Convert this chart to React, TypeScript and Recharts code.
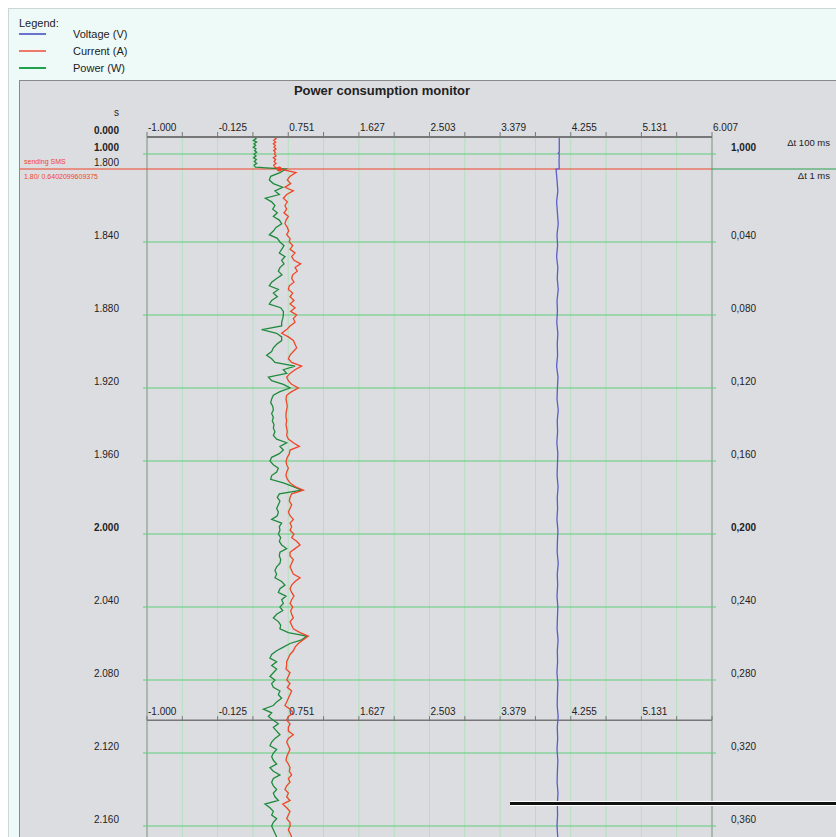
import React from 'react';
import {
  LineChart,
  Line,
  XAxis,
  YAxis,
  CartesianGrid,
  ReferenceLine,
  ReferenceDot,
} from 'recharts';

// value axis
const X_MIN = -1.0;
const X_MAX = 6.007;
const X_LABELS = ['-1.000', '-0.125', '0.751', '1.627', '2.503', '3.379', '4.255', '5.131', '6.007'];

// time axis (s)
const TIME_TICKS = [0, 1.0, 1.8, 1.84, 1.88, 1.92, 1.96, 2.0, 2.04, 2.08, 2.12, 2.16];
const LEFT_LABELS = ['0.000', '1.000', '1.800', '1.840', '1.880', '1.920', '1.960', '2.000', '2.040', '2.080', '2.120', '2.160'];
const RIGHT_LABELS = ['', '1,000', '', '0,040', '0,080', '0,120', '0,160', '0,200', '0,240', '0,280', '0,320', '0,360'];
const LEFT_BOLD = ['0.000', '1.000', '2.000'];
const RIGHT_BOLD = ['1,000', '0,200'];

const SMS_T = 1.8;
const SMS_VALUE = 0.6402099609375;
const SECOND_AXIS_T = 2.102;

// overview before the event (Δt 100 ms)
const PRE_TIMES = [0, 0.1, 0.2, 0.3, 0.4, 0.5, 0.6, 0.7, 0.8, 0.9, 1.0, 1.1, 1.2, 1.3, 1.4, 1.5, 1.6, 1.7];
const PRE_CURRENT = [0.579, 0.6, 0.571, 0.596, 0.567, 0.592, 0.575, 0.6, 0.571, 0.592, 0.579, 0.6, 0.567, 0.596, 0.575, 0.6, 0.571, 0.587];
const PRE_POWER = [0.327, 0.352, 0.319, 0.36, 0.327, 0.348, 0.319, 0.352, 0.335, 0.36, 0.327, 0.352, 0.323, 0.356, 0.331, 0.36, 0.327, 0.344];

// detail from 1.800 s on, every 2 ms
const SAMPLE_START = 1.8;
const SAMPLE_STEP = 0.002;
const CURRENT = [
  0.641, 0.848, 0.774, 0.74, 0.782, 0.711, 0.815, 0.732, 0.691, 0.74, 0.711, 0.732, 0.699, 0.753, 0.724, 0.711, 0.74, 0.757, 0.732, 0.774,
  0.765, 0.807, 0.774, 0.836, 0.794, 0.823, 0.906, 0.836, 0.864, 0.807, 0.794, 0.823, 0.765, 0.753, 0.807, 0.774, 0.823, 0.774, 0.836, 0.782,
  0.856, 0.815, 0.836, 0.774, 0.732, 0.67, 0.753, 0.815, 0.836, 0.856, 0.815, 0.774, 0.753, 0.794, 0.918, 0.836, 0.774,
  0.732, 0.753, 0.794, 0.877, 0.794, 0.732, 0.724, 0.732, 0.74, 0.732, 0.724, 0.724, 0.732, 0.724, 0.732, 0.74, 0.732, 0.753, 0.815, 0.889,
  0.774, 0.765, 0.74, 0.724, 0.732, 0.753, 0.732, 0.724, 0.74, 0.774, 0.836,
  0.939, 0.794, 0.774, 0.765, 0.794, 0.774, 0.753, 0.774, 0.815, 0.774, 0.794, 0.774, 0.823, 0.794, 0.856, 0.898, 0.836, 0.774,
  0.774, 0.815, 0.794, 0.774, 0.794, 0.815, 0.898, 0.836, 0.794, 0.774, 0.794, 0.823, 0.794, 0.774, 0.807, 0.782, 0.794, 0.815, 0.774, 0.794,
  0.815, 0.898, 1.001, 0.939, 0.877, 0.836, 0.815, 0.774, 0.753, 0.732,
  0.732, 0.724, 0.774, 0.753, 0.732, 0.774, 0.74, 0.794, 0.774, 0.753, 0.732, 0.711, 0.774, 0.815, 0.753, 0.732, 0.774, 0.753,
  0.753, 0.815, 0.753, 0.732, 0.753, 0.774, 0.753, 0.732, 0.724, 0.753, 0.774, 0.765, 0.794, 0.753, 0.774, 0.732, 0.711, 0.753, 0.732, 0.774,
  0.683, 0.732, 0.774, 0.753, 0.732, 0.774, 0.774, 0.753, 0.774, 0.794,
];
const POWER = [
  0.724, 0.649, 0.534, 0.517, 0.567, 0.683, 0.587, 0.641, 0.468, 0.546, 0.587, 0.559, 0.616, 0.567, 0.641, 0.67, 0.6, 0.567, 0.517, 0.616,
  0.649, 0.699, 0.67, 0.641, 0.711, 0.67, 0.699, 0.649, 0.629, 0.674, 0.608, 0.546, 0.517, 0.629, 0.567, 0.616, 0.546, 0.517, 0.658, 0.691,
  0.691, 0.683, 0.67, 0.67, 0.422, 0.608, 0.67, 0.67, 0.608, 0.567, 0.546, 0.484, 0.546, 0.587, 0.836, 0.691, 0.732,
  0.505, 0.546, 0.691, 0.774, 0.649, 0.567, 0.546, 0.534, 0.559, 0.567, 0.546, 0.567, 0.554, 0.575, 0.567, 0.587, 0.567, 0.608, 0.732, 0.649,
  0.691, 0.641, 0.546, 0.525, 0.567, 0.629, 0.608, 0.546, 0.534, 0.691, 0.815,
  0.918, 0.641, 0.616, 0.649, 0.629, 0.608, 0.629, 0.616, 0.546, 0.67, 0.641, 0.649, 0.629, 0.658, 0.641, 0.67, 0.732, 0.649,
  0.641, 0.658, 0.649, 0.608, 0.587, 0.608, 0.587, 0.67, 0.711, 0.649, 0.629, 0.724, 0.67, 0.691, 0.649, 0.683, 0.608, 0.567, 0.629, 0.658,
  0.649, 0.753, 0.98, 0.918, 0.774, 0.691, 0.608, 0.546, 0.525, 0.608,
  0.546, 0.608, 0.567, 0.525, 0.587, 0.546, 0.567, 0.649, 0.629, 0.67, 0.608, 0.567, 0.443, 0.546, 0.505, 0.567, 0.629, 0.567,
  0.608, 0.649, 0.587, 0.546, 0.525, 0.608, 0.567, 0.546, 0.567, 0.608, 0.525, 0.567, 0.649, 0.567, 0.546, 0.567, 0.608, 0.567, 0.587, 0.629,
  0.463, 0.525, 0.567, 0.546, 0.608, 0.567, 0.546, 0.567, 0.587, 0.608,
];

// voltage is nearly flat
const VOLT_PRE_TIMES = [0, 0.5, 0.9, 0.95, 1.0, 1.4, 1.7, 1.79];
const VOLT_PRE = [4.113, 4.113, 4.113, 4.1, 4.113, 4.11, 4.112, 4.11];
const VOLT_STEP = 0.006;
const VOLTAGE = [
  4.073, 4.085, 4.095, 4.08, 4.09, 4.1, 4.085, 4.092, 4.08, 4.095, 4.088, 4.1, 4.085, 4.09, 4.082, 4.095, 4.088, 4.092, 4.08, 4.097,
  4.09, 4.085, 4.1, 4.088, 4.092, 4.083, 4.095, 4.09, 4.086, 4.098, 4.088, 4.092, 4.084, 4.096, 4.09, 4.087, 4.1, 4.088, 4.093, 4.085,
  4.095, 4.09, 4.086, 4.098, 4.089, 4.092, 4.084, 4.096, 4.09, 4.087, 4.099, 4.088, 4.093, 4.085, 4.095, 4.09, 4.086, 4.097, 4.089, 4.092,
  4.085, 4.094,
];

const RED = '#f0452a';
const GREEN = '#1e8a3c';
const BLUE = '#5a5ec8';
const FONT = '"Liberation Sans", Arial, sans-serif';

// compressed time scale: overview part on top, 1 ms detail below
const posOf = (t: number) =>
  t <= 1.0 ? t * 17 : t <= 1.8 ? 17 + ((t - 1.0) * 15) / 0.8 : 32 + (t - 1.8) * 1825;

const X_STEP = (X_MAX - X_MIN) / 16;
const X_TICKS = Array.from({ length: 17 }, (_, i) => X_MIN + i * X_STEP);
const Y_TICKS = TIME_TICKS.map(posOf);

const detailTimes = CURRENT.map((_, i) => SAMPLE_START + i * SAMPLE_STEP);
const currentData = [
  ...PRE_TIMES.map((t, i) => ({ pos: posOf(t), v: PRE_CURRENT[i] })),
  ...detailTimes.map((t, i) => ({ pos: posOf(t), v: CURRENT[i] })),
];
const powerData = [
  ...PRE_TIMES.map((t, i) => ({ pos: posOf(t), v: PRE_POWER[i] })),
  ...detailTimes.map((t, i) => ({ pos: posOf(t), v: POWER[i] })),
];
const voltageData = [
  ...VOLT_PRE_TIMES.map((t, i) => ({ pos: posOf(t), v: VOLT_PRE[i] })),
  ...VOLTAGE.map((v, i) => ({ pos: posOf(SAMPLE_START + i * VOLT_STEP), v })),
];

const tickIndex = (value: number) => Y_TICKS.findIndex((p) => Math.abs(p - value) < 0.01);

const TopTick = (props: any) => {
  const { x, payload } = props;
  const i = Math.round((payload.value - X_MIN) / X_STEP);
  if (i % 2 !== 0) return <g />;
  return (
    <text x={x + 1} y={50.3} fontSize={10} fill="#222" fontFamily={FONT}>
      {X_LABELS[i / 2]}
    </text>
  );
};

const LeftTick = (props: any) => {
  const { y, payload } = props;
  const i = tickIndex(payload.value);
  if (i < 0) return <g />;
  const label = LEFT_LABELS[i];
  return (
    <g fontFamily={FONT}>
      {i === 0 && (
        <text x={99} y={y - 21.5} fontSize={10} fill="#222" textAnchor="end">s</text>
      )}
      <text x={99} y={y - 3.4} fontSize={10} fill="#222" textAnchor="end" fontWeight={LEFT_BOLD.includes(label) ? 'bold' : 'normal'}>
        {label}
      </text>
      {i === 2 && (
        <>
          <text x={4} y={y - 5.5} fontSize={7} fill={RED}>sending SMS</text>
          <text x={4} y={y + 9.5} fontSize={7} fill={RED}>{`1.80/ ${SMS_VALUE}`}</text>
        </>
      )}
    </g>
  );
};

const RightTick = (props: any) => {
  const { y, payload } = props;
  const i = tickIndex(payload.value);
  if (i < 0) return <g />;
  const label = RIGHT_LABELS[i];
  return (
    <g fontFamily={FONT}>
      <text x={711} y={y - 3.4} fontSize={10} fill="#222" fontWeight={RIGHT_BOLD.includes(label) ? 'bold' : 'normal'}>
        {label}
      </text>
      {i === 1 && (
        <text x={810} y={y - 7.7} fontSize={9.5} fill="#222" textAnchor="end">Δt 100 ms</text>
      )}
      {i === 2 && (
        <text x={810} y={y + 9.5} fontSize={9.5} fill="#222" textAnchor="end">Δt 1 ms</text>
      )}
    </g>
  );
};

const SecondAxis = (p: any) => {
  const { x1, x2, y1 } = p;
  if (x1 == null || x2 == null || y1 == null) return null;
  const step = (x2 - x1) / 16;
  return (
    <g fontFamily={FONT}>
      <line x1={x1} x2={x2} y1={y1} y2={y1} stroke="#777" strokeWidth={1.5} />
      {X_TICKS.map((_, i) => (
        <line key={i} x1={x1 + i * step} x2={x1 + i * step} y1={y1} y2={y1 - 4} stroke="#777" />
      ))}
      {X_LABELS.slice(0, 8).map((l, i) => (
        <text key={l} x={x1 + i * 2 * step + 1} y={y1 - 5.4} fontSize={10} fill="#222">{l}</text>
      ))}
    </g>
  );
};

const LEGEND = [
  { label: 'Voltage (V)', color: '#6a72d0', top: 24 },
  { label: 'Current (A)', color: '#f07868', top: 41 },
  { label: 'Power (W)', color: '#23a04a', top: 58 },
];

const App: React.FC = () => {
  return (
    <div
      style={{
        position: 'fixed',
        left: 8,
        top: 8,
        right: 0,
        bottom: 0,
        overflow: 'hidden',
        background: '#eefaf8',
        borderTop: '1px solid #cdd5d5',
        borderLeft: '1px solid #cdd5d5',
        fontFamily: FONT,
        color: '#222',
      }}
    >
      <div style={{ position: 'absolute', left: 10, top: 7, fontSize: 11, lineHeight: '14px' }}>Legend:</div>
      {LEGEND.map((l) => (
        <React.Fragment key={l.label}>
          <div style={{ position: 'absolute', left: 10, top: l.top, width: 27, height: 1.5, background: l.color }} />
          <div style={{ position: 'absolute', left: 64, top: l.top - 6, fontSize: 11, lineHeight: '14px' }}>{l.label}</div>
        </React.Fragment>
      ))}

      <div
        style={{
          position: 'absolute',
          left: 10,
          top: 71,
          right: 0,
          bottom: 0,
          background: '#dcdde1',
          borderTop: '1px solid #8a8a8a',
          borderLeft: '1px solid #8a8a8a',
        }}
      >
        <div
          style={{
            position: 'absolute',
            left: 362,
            top: 3,
            transform: 'translateX(-50%)',
            whiteSpace: 'nowrap',
            fontSize: 13,
            fontWeight: 'bold',
            lineHeight: '14px',
          }}
        >
          Power consumption monitor
        </div>
        <LineChart layout="vertical" width={816} height={756} margin={{ top: 0, right: 0, bottom: 0, left: 0 }}>
          <CartesianGrid horizontal={false} stroke="#b3e1bd" />
          <XAxis
            type="number"
            orientation="top"
            domain={[X_MIN, X_MAX]}
            ticks={X_TICKS}
            interval={0}
            height={56}
            tickSize={5}
            tickLine={{ stroke: '#777' }}
            axisLine={{ stroke: '#777', strokeWidth: 2 }}
            tick={(p: any) => <TopTick {...p} />}
            allowDataOverflow
          />
          <YAxis
            type="number"
            dataKey="pos"
            orientation="left"
            domain={[0, 700]}
            ticks={Y_TICKS}
            interval={0}
            width={127}
            axisLine={false}
            tickLine={false}
            tick={(p: any) => <LeftTick {...p} />}
            allowDataOverflow
          />
          <YAxis
            yAxisId="R"
            type="number"
            dataKey="pos"
            orientation="right"
            domain={[0, 700]}
            ticks={Y_TICKS}
            interval={0}
            width={124}
            axisLine={false}
            tickLine={false}
            tick={(p: any) => <RightTick {...p} />}
            allowDataOverflow
          />
          <ReferenceLine x={X_MIN} stroke="#8c9090" />
          <ReferenceLine x={X_MAX} stroke="#8c9090" />
          {TIME_TICKS.filter((t) => t !== 0 && t !== SMS_T).map((t) => (
            <ReferenceLine
              key={t}
              segment={[{ x: -1.05, y: posOf(t) }, { x: 6.057, y: posOf(t) }]}
              stroke="#5fcf7a"
              ifOverflow="visible"
            />
          ))}
          <ReferenceLine
            segment={[{ x: -2.575, y: posOf(SMS_T) }, { x: X_MAX, y: posOf(SMS_T) }]}
            stroke={RED}
            ifOverflow="visible"
          />
          <ReferenceLine
            segment={[{ x: X_MAX, y: posOf(SMS_T) }, { x: 7.545, y: posOf(SMS_T) }]}
            stroke="#2aa050"
            ifOverflow="visible"
          />
          <ReferenceLine
            segment={[{ x: X_MIN, y: posOf(SECOND_AXIS_T) }, { x: X_MAX, y: posOf(SECOND_AXIS_T) }]}
            ifOverflow="visible"
            shape={(p: any) => <SecondAxis {...p} />}
          />
          <Line data={voltageData} dataKey="v" type="linear" stroke={BLUE} strokeWidth={1.3} dot={false} isAnimationActive={false} />
          <Line data={powerData} dataKey="v" type="linear" stroke={GREEN} strokeWidth={1.3} dot={false} isAnimationActive={false} />
          <Line data={currentData} dataKey="v" type="linear" stroke={RED} strokeWidth={1.3} dot={false} isAnimationActive={false} />
          <ReferenceDot x={SMS_VALUE} y={posOf(SMS_T)} r={2.5} fill={RED} stroke="none" ifOverflow="visible" />
        </LineChart>
      </div>

      <div style={{ position: 'absolute', left: 501, top: 792, right: 0, height: 5, background: '#fff' }}>
        <div style={{ position: 'absolute', left: 0, right: 0, top: 1, height: 3, background: '#111' }} />
      </div>
    </div>
  );
};

export default App;
